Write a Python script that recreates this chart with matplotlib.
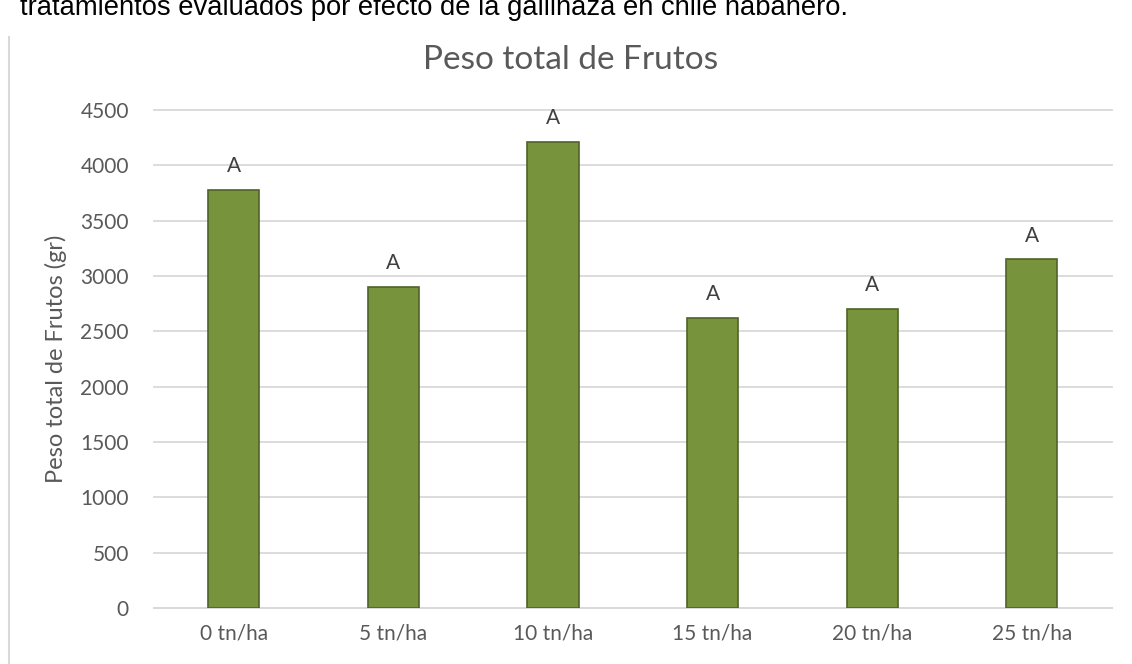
import matplotlib
matplotlib.use("Agg")
import matplotlib.pyplot as plt
from matplotlib.lines import Line2D

# data
categories = ["0 tn/ha", "5 tn/ha", "10 tn/ha", "15 tn/ha", "20 tn/ha", "25 tn/ha"]
peso = [3780, 2900, 4215, 2625, 2705, 3150]
letras = ["A", "A", "A", "A", "A", "A"]

plt.rcParams['font.family'] = ['Lato', 'DejaVu Sans']
txt = '#595959'

fig = plt.figure(figsize=(11.32, 6.64), dpi=100)
ax = fig.add_axes([0.136, 0.0843, 0.846, 0.750])

x = range(len(categories))
bars = ax.bar(x, peso, width=0.32, color='#77933c', edgecolor='#4f6228', linewidth=1.2, zorder=3)
for b, l in zip(bars, letras):
    ax.annotate(l, (b.get_x() + b.get_width() / 2, b.get_height()),
                xytext=(0, 10), textcoords='offset points',
                ha='center', va='bottom', fontsize=15, color='#404040')

ax.set_ylim(0, 4500)
ax.set_xlim(-0.5, len(categories) - 0.5)
ax.set_yticks(range(0, 4501, 500))
ax.set_xticks(list(x))
ax.set_xticklabels(categories)
ax.tick_params(axis='both', length=0, labelsize=15, colors=txt)
ax.tick_params(axis='y', pad=18)
ax.tick_params(axis='x', pad=11)
ax.yaxis.grid(True, color='#d9d9d9', linewidth=1.3, zorder=0, clip_on=False)
for s in ['top', 'right', 'left']:
    ax.spines[s].set_visible(False)
ax.spines['bottom'].set_color('#d9d9d9')
ax.spines['bottom'].set_linewidth(1.3)
ax.set_ylabel('Peso total de Frutos (gr)', fontsize=17, color=txt, labelpad=10)
fig.text(0.504, 0.910, 'Peso total de Frutos', fontsize=24, color=txt, ha='center', va='center')

# caption from the page, cut off at the top
fig.text(0.018, 0.977, 'tratamientos evaluados por efecto de la gallinaza en chile habanero.',
         fontsize=19.7, family='Liberation Sans', color='black', ha='left', va='baseline')
# chart border on the left
fig.add_artist(Line2D([0.008, 0.008], [0, 0.945], color='#d9d9d9', linewidth=1.5))

fig.savefig('out.png', dpi=100)
